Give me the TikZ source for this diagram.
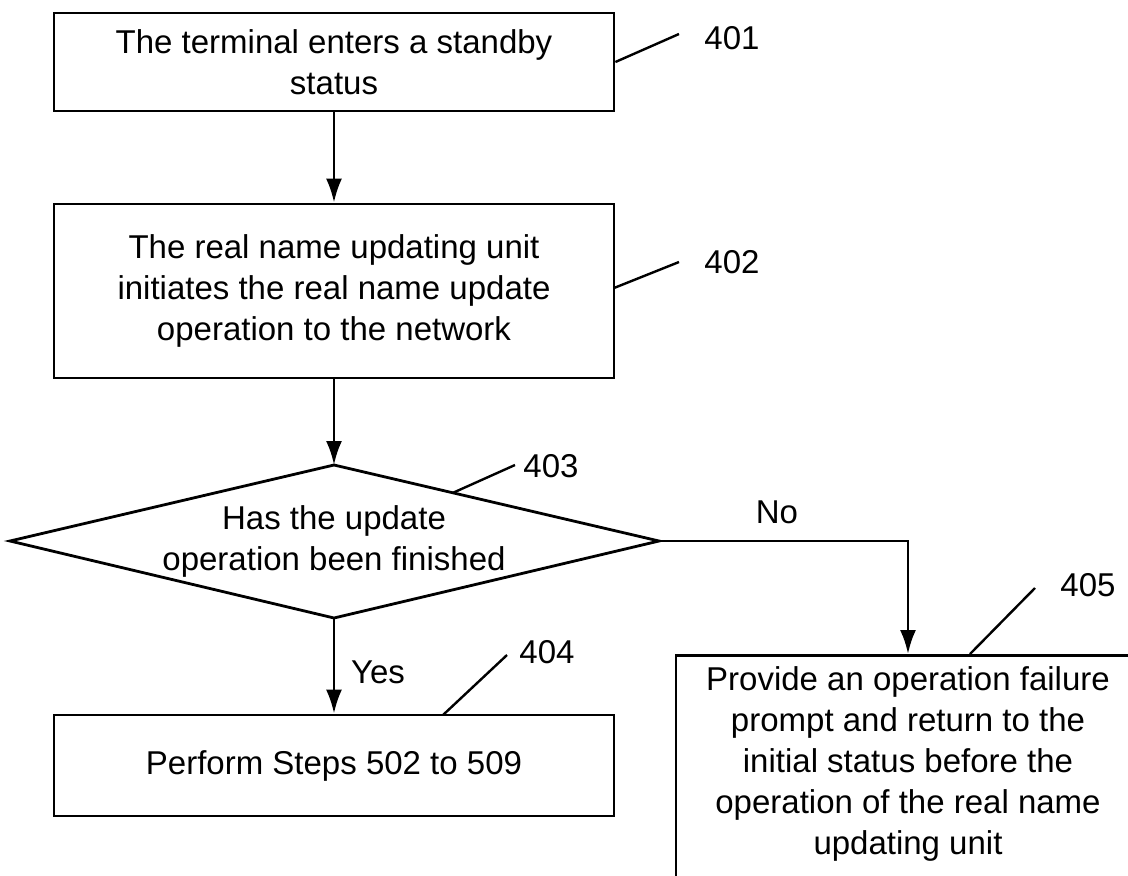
\documentclass[tikz,border=0pt]{standalone}
\usepackage{fontspec}
\setmainfont{Liberation Sans}
\usetikzlibrary{arrows.meta,calc}
\begin{document}
\begin{tikzpicture}[x=1pt,y=-1pt,
  line width=2.8pt,
  txt/.style={font=\fontsize{33}{41}\selectfont},
  stepbox/.style={draw, rectangle, inner sep=0pt, align=center, txt},
  lbl/.style={anchor=west, inner sep=0pt, txt},
  arr/.style={-{Latex[length=24pt,width=16pt]}},
  lead/.style={line width=2.4pt}]
\clip (0,0) rectangle (1128,876);
% boxes
\node[stepbox, minimum width=560, minimum height=98] (b401) at (334,62)
  {The terminal enters a standby\\status};
\node[stepbox, minimum width=560, minimum height=174] (b402) at (334,291)
  {The real name updating unit\\initiates the real name update\\operation to the network};
\node[stepbox, minimum width=560, minimum height=101] (b404) at (334,765.5)
  {Perform Steps 502 to 509};
\node[stepbox, minimum width=464, minimum height=240, anchor=north] (b405) at (908,654) {};
\node[txt, align=center, anchor=north] (t405) at (908,662)
  {Provide an operation failure\\prompt and return to the\\initial status before the\\operation of the real name\\updating unit};
% diamond
\coordinate (dtop) at (334,465);
\coordinate (dright) at (659,541);
\coordinate (dbot) at (334,618);
\coordinate (dleft) at (10,541);
\draw (dtop) -- (dright) -- (dbot) -- (dleft) -- cycle;
\node[txt, align=center] (dtxt) at (334,541) {Has the update\\operation been finished};
% connectors
\draw[arr] (b401) -- (b402);
\draw[arr] (b402) -- (dtop);
\draw[arr] (dbot) -- (b404);
\draw[arr] (dright) -| (b405.north);
\node[txt, inner sep=0pt] (no) at (777,512) {No};
\node[txt, inner sep=0pt] (yes) at (378,672) {Yes};
% reference labels
\coordinate (e401) at (679,34);
\node[lbl] (n401) at (703,38) {401};
\draw[lead] (b401.east) -- (e401);
\coordinate (s402) at (614,288);
\coordinate (e402) at (679,262);
\node[lbl] (n402) at (703,262) {402};
\draw[lead] (s402) -- (e402);
\coordinate (e403) at (515,465);
\node[lbl] (n403) at (522,466) {403};
\draw[lead] ($(dtop)!0.366!(dright)$) -- (e403);
\coordinate (s404) at (443,715);
\coordinate (e404) at (507,655);
\node[lbl] (n404) at (518,652) {404};
\draw[lead] (s404) -- (e404);
\coordinate (s405) at (970,654);
\coordinate (e405) at (1035,588);
\node[lbl] (n405) at (1059,585) {405};
\draw[lead] (s405) -- (e405);
\end{tikzpicture}
\end{document}
